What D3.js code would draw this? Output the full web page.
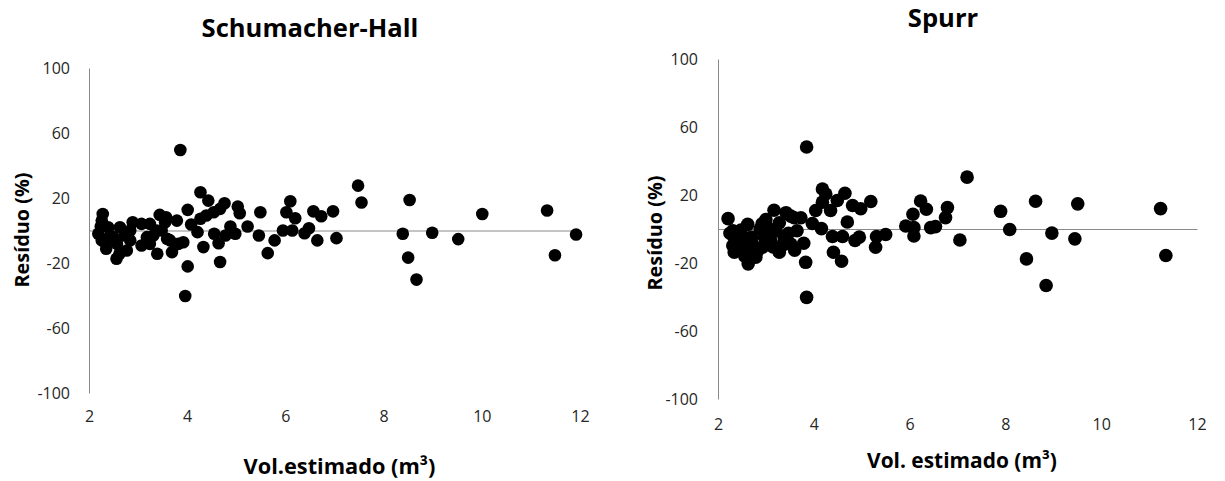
<!DOCTYPE html>
<html><head><meta charset="utf-8">
<script src="https://cdn.jsdelivr.net/npm/d3@7"></script>
<style>body{margin:0;background:#fff}svg{display:block}text{font-family:"Open Sans",sans-serif}</style>
</head><body>
<svg id="c" width="1225" height="481"></svg>
<script>
const xTicks=[2,4,6,8,10,12];
const yTicks=[100,60,20,-20,-60,-100];
const titles=["Schumacher-Hall","Spurr"];
const xTitles=["Vol.estimado (m³)","Vol. estimado (m³)"];
const yTitle="Resíduo (%)";

// Schumacher-Hall residuals
const shVol=[7.48,7.55,8.53,8.39,8.50,8.67,8.99,9.52,10.01,11.33,11.49,11.92,6.57,6.73,6.97,6.48,6.39,6.65,7.04,
3.86,3.96,4.01,4.27,4.43,4.76,5.03,5.07,5.49,6.10,6.02,6.20,5.95,6.14,5.78,5.64,5.46,5.23,4.98,4.88,4.67,4.64,4.55,4.78,4.33,4.21,4.08,4.01,4.27,4.39,4.54,4.67,
3.92,3.79,3.69,3.65,3.44,3.55,3.48,3.39,3.24,3.07,3.18,3.24,3.07,2.89,2.84,2.77,2.56,2.63,2.73,2.50,2.57,2.35,2.28,2.26,2.24,2.19,2.26,2.39,2.43,3.38,
3.82,3.59,3.31,3.57,2.33,2.84,2.62];
const shRes=[27.6,17.2,18.8,-2.0,-16.7,-30.2,-1.4,-5.3,10.2,12.3,-15.2,-2.5,11.8,8.8,11.8,1.4,-1.7,-6.1,-4.7,
49.5,-40.3,-22.1,23.5,18.4,16.8,14.7,10.6,11.2,18.0,11.2,7.5,0,0,-6.1,-13.9,-3.1,2.5,-2.0,2.5,-19.4,-7.8,-2.0,-3.1,-10.2,-1.0,3.7,12.7,7.2,9.2,11.2,13.3,
-7.2,6.1,-13.3,-6.1,9.6,5.1,0,-14.3,-8.2,-9.2,-4.1,4.1,4.1,5.1,-6.1,-12.3,-17.4,2.0,-3.1,-4.1,-8.2,-11.2,10.2,6.1,2.5,-2.0,-6.1,2.0,-3.1,0,
-8.2,-5.1,-3.1,8.2,-7.2,0,-14.3];

// Spurr residuals
const spVol=[7.20,6.23,6.35,6.07,6.79,6.75,5.92,6.09,6.09,6.44,6.54,7.05,7.90,8.09,8.44,8.63,8.97,8.85,9.51,9.45,11.24,11.35,
3.85,3.85,4.18,4.25,4.65,4.49,4.18,4.81,4.98,5.19,4.04,4.35,4.70,3.97,4.16,4.39,4.60,4.95,4.86,5.31,5.50,5.29,4.41,4.58,3.83,
3.73,3.52,3.42,3.17,2.21,2.62,3.04,3.28,2.34,2.31,2.34,2.63,2.79,2.93,3.10,3.28,3.52,3.65,3.79,2.53,2.70,2.88,
2.48,3.04,3.38,2.83,3.59,3.21,2.31,
2.25,2.42,2.47,2.60,2.72,2.97,3.15,3.35,3.47,3.60,2.56,2.76,2.92,3.00];
const spRes=[30.5,16.5,11.6,8.7,12.6,6.7,1.8,0.8,-4.1,0.8,1.4,-6.5,10.4,-0.3,-17.6,16.3,-2.4,-33.2,14.8,-5.8,12.0,-15.6,
48.2,-40.2,23.5,20.6,21.0,16.8,15.8,13.8,11.9,16.2,10.9,10.9,4.1,3.2,0.2,-4.4,-4.4,-4.8,-6.8,-4.4,-3.2,-10.7,-13.7,-19.0,-19.6,
6.6,7.6,9.6,11.0,6.1,2.7,0.7,3.7,-5.1,-9.8,-13.7,-20.5,-16.6,-10.7,-6.8,-13.7,-8.8,-1.0,-8.4,-6.8,-4.8,0,
-0.6,-8.6,-4.8,-12.7,6.6,-1.0,-1.0,
-2.5,-8.0,-12.0,-11.5,-9.0,-5.0,-10.5,-9.5,-2.5,-12.5,-16.0,-13.5,3.0,5.5];

const svg=d3.select("#c");
function fit(t,w){const b=20;t.style("font-size",b+"px");const l=t.node().getComputedTextLength();t.style("font-size",(b*w/l)+"px");}

const panels=[
 {vol:shVol,res:shRes,x0:89,x1:580,yt:68,yb:393,pad:19,xl:411,r:6.3,
  title:{x:310,y:37,w:217},xt:{x:339.5,y:474,w:192},yti:{x:29,y:230,w:115}},
 {vol:spVol,res:spRes,x0:718,x1:1197,yt:59,yb:399,pad:20,xl:419,r:6.8,
  title:{x:943,y:27,w:null},xt:{x:962,y:468,w:190},yti:{x:662,y:233,w:115}}
];
let titleSize=null;
panels.forEach((p,i)=>{
 const x=d3.scaleLinear().domain([2,12]).range([p.x0,p.x1]);
 const y=d3.scaleLinear().domain([-100,100]).range([p.yb,p.yt]);
 const g=svg.append("g");
 // y axis
 const ya=g.append("g").attr("transform",`translate(${p.x0},0)`)
   .call(d3.axisLeft(y).tickValues(yTicks).tickFormat(d=>String(d)).tickSize(0).tickSizeOuter(0).tickPadding(p.pad));
 ya.select(".domain").attr("stroke","#8a8a8a");
 ya.selectAll("text").attr("font-size",16).attr("fill","#262626").attr("font-family","Open Sans");
 // zero line
 const za=g.append("g").attr("transform",`translate(0,${y(0)})`)
   .call(d3.axisBottom(x).tickValues([]).tickSizeOuter(0));
 za.select(".domain").attr("stroke","#8a8a8a");
 // x tick labels (low position)
 const xa=g.append("g").attr("transform",`translate(0,${p.xl})`)
   .call(d3.axisBottom(x).tickValues(xTicks).tickFormat(d=>String(d)).tickSize(0).tickPadding(0));
 xa.select(".domain").remove();
 xa.selectAll("text").attr("font-size",16).attr("fill","#262626").attr("font-family","Open Sans");
 // dots
 g.append("g").selectAll("circle").data(p.vol.map((v,k)=>[v,p.res[k]])).join("circle")
  .attr("cx",d=>x(d[0])).attr("cy",d=>y(d[1])).attr("r",p.r).attr("fill","#000");
 // title
 const t=g.append("text").attr("x",p.title.x).attr("y",p.title.y).attr("text-anchor","middle")
   .attr("font-weight","bold").attr("fill","#000").text(titles[i]);
 if(p.title.w){fit(t,p.title.w);titleSize=t.style("font-size");} else t.style("font-size",titleSize);
 // x title
 const xt=g.append("text").attr("x",p.xt.x).attr("y",p.xt.y).attr("text-anchor","middle")
   .attr("font-weight","bold").attr("fill","#000").text(xTitles[i]);
 fit(xt,p.xt.w);
 // y title
 const yt=g.append("text").attr("transform",`translate(${p.yti.x},${p.yti.y}) rotate(-90)`)
   .attr("text-anchor","middle").attr("font-weight","bold").attr("fill","#000").text(yTitle);
 fit(yt,p.yti.w);
});
</script>
</body></html>
